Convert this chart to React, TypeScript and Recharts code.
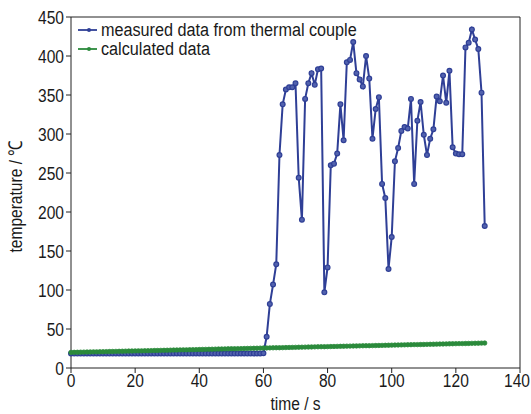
import { Line, LineChart, ReferenceLine, XAxis, YAxis } from 'recharts'

// Thermocouple reading vs. calculated temperature over the first ~130 s.

const TIME = [
  0, 1, 2, 3, 4, 5, 6, 7, 8, 9, 10, 11, 12, 13, 14, 15, 16, 17, 18, 19,
  20, 21, 22, 23, 24, 25, 26, 27, 28, 29, 30, 31, 32, 33, 34, 35, 36, 37, 38, 39,
  40, 41, 42, 43, 44, 45, 46, 47, 48, 49, 50, 51, 52, 53, 54, 55, 56, 57, 58, 59,
  60, 61, 62, 63, 64, 65, 66, 67, 68, 69, 70, 71, 72, 73, 74, 75, 76, 77, 78, 79,
  80, 81, 82, 83, 84, 85, 86, 87, 88, 89, 90, 91, 92, 93, 94, 95, 96, 97, 98, 99,
  100, 101, 102, 103, 104, 105, 106, 107, 108, 109, 110, 111, 112, 113, 114, 115, 116, 117, 118, 119,
  120, 121, 122, 123, 124, 125, 126, 127, 128, 129,
]

const MEASURED = [
  18.5, 18.5, 18.5, 18.5, 18.5, 18.5, 18.5, 18.5, 18.5, 18.5, 18.5, 18.5, 18.5, 18.5, 18.5, 18.5, 18.5, 18.5, 18.5, 18.5,
  18.5, 18.5, 18.5, 18.5, 18.5, 18.5, 18.5, 18.5, 18.5, 18.5, 18.5, 18.5, 18.5, 18.5, 18.5, 18.5, 18.5, 18.5, 18.5, 18.5,
  18.5, 18.5, 18.5, 18.5, 18.5, 18.5, 18.5, 18.5, 18.5, 18.5, 18.5, 18.5, 18.5, 18.5, 18.5, 18.5, 18.5, 18.5, 18.5, 18.5,
  19, 40, 82, 107, 133, 273, 338, 357, 360, 360, 365, 244, 190, 345, 365, 378, 363, 383, 384, 97,
  129, 260, 262, 275, 338, 292, 392, 395, 418, 378, 370, 361, 400, 371, 294, 332, 347, 236, 218, 127,
  168, 265, 282, 304, 309, 307, 345, 236, 317, 341, 299, 273, 294, 306, 348, 342, 375, 340, 381, 283,
  275, 274, 274, 411, 417, 434, 421, 409, 353, 182,
]

const CALCULATED = [
  20.0, 20.1, 20.2, 20.3, 20.4, 20.5, 20.6, 20.7, 20.7, 20.8, 20.9, 21.0, 21.1, 21.2, 21.3, 21.4, 21.5, 21.6, 21.7, 21.8,
  21.9, 22.0, 22.0, 22.1, 22.2, 22.3, 22.4, 22.5, 22.6, 22.7, 22.8, 22.9, 23.0, 23.1, 23.2, 23.3, 23.3, 23.4, 23.5, 23.6,
  23.7, 23.8, 23.9, 24.0, 24.1, 24.2, 24.3, 24.4, 24.5, 24.6, 24.7, 24.7, 24.8, 24.9, 25.0, 25.1, 25.2, 25.3, 25.4, 25.5,
  25.6, 25.7, 25.8, 25.9, 26.0, 26.0, 26.1, 26.2, 26.3, 26.4, 26.5, 26.6, 26.7, 26.8, 26.9, 27.0, 27.1, 27.2, 27.3, 27.3,
  27.4, 27.5, 27.6, 27.7, 27.8, 27.9, 28.0, 28.1, 28.2, 28.3, 28.4, 28.5, 28.6, 28.6, 28.7, 28.8, 28.9, 29.0, 29.1, 29.2,
  29.3, 29.4, 29.5, 29.6, 29.7, 29.8, 29.9, 30.0, 30.0, 30.1, 30.2, 30.3, 30.4, 30.5, 30.6, 30.7, 30.8, 30.9, 31.0, 31.1,
  31.2, 31.3, 31.3, 31.4, 31.5, 31.6, 31.7, 31.8, 31.9, 32.0,
]

const X_TICKS = [0, 20, 40, 60, 80, 100, 120, 140]
const Y_TICKS = [0, 50, 100, 150, 200, 250, 300, 350, 400, 450]

const SERIES_NAMES = ['measured data from thermal couple', 'calculated data']

const BLUE = '#2f3f96'
const GREEN = '#2b8a3b'
const AXIS = '#222222'
const TEXT = '#1a1a1a'
const FONT = '"Liberation Sans", Arial, sans-serif'
// the figure uses a condensed sans; squeeze Liberation Sans to match
const SQUEEZE = 0.82

const data = TIME.map((t, i) => ({
  t,
  measured: MEASURED[i],
  calculated: CALCULATED[i],
}))

function XTick({ x, y, payload, index }: any) {
  // last label sits against the right edge in the original, nudge it in
  const nudge = index === X_TICKS.length - 1 ? -3 : 0
  return (
    <g transform={`translate(${x + nudge},${y})`}>
      <text
        transform={`scale(${SQUEEZE},1)`}
        textAnchor="middle"
        dy="0.71em"
        fill={TEXT}
        fontSize={19}
        fontFamily={FONT}
      >
        {payload.value}
      </text>
    </g>
  )
}

function YTick({ x, y, payload }: any) {
  return (
    <g transform={`translate(${x},${y})`}>
      <text
        transform={`scale(${SQUEEZE},1)`}
        textAnchor="end"
        dy="0.355em"
        fill={TEXT}
        fontSize={19}
        fontFamily={FONT}
      >
        {payload.value}
      </text>
    </g>
  )
}

function XTitle({ viewBox }: any) {
  const cx = viewBox.x + viewBox.width / 2
  return (
    <g transform={`translate(${cx},${viewBox.y + 42})`}>
      <text transform={`scale(${SQUEEZE},1)`} textAnchor="middle" fill={TEXT} fontSize={19} fontFamily={FONT}>
        time / s
      </text>
    </g>
  )
}

function YTitle({ viewBox }: any) {
  const cy = viewBox.y + viewBox.height / 2 + 4
  return (
    <g transform={`translate(${viewBox.x + 15},${cy}) rotate(-90)`}>
      <text
        transform={`scale(${SQUEEZE},1)`}
        textAnchor="middle"
        dy="0.355em"
        fill={TEXT}
        fontSize={19}
        fontFamily={FONT}
      >
        temperature / ℃
      </text>
    </g>
  )
}

function LegendBox() {
  const rows = [
    { name: SERIES_NAMES[0], color: BLUE },
    { name: SERIES_NAMES[1], color: GREEN },
  ]
  return (
    <div
      style={{
        position: 'absolute',
        left: 77,
        top: 21,
        fontFamily: FONT,
        fontSize: 18,
        lineHeight: '18px',
        color: TEXT,
        pointerEvents: 'none',
      }}
    >
      {rows.map((row) => (
        <div key={row.name} style={{ display: 'flex', alignItems: 'center', height: 18.5, whiteSpace: 'nowrap' }}>
          <svg width={24} height={10} style={{ flex: 'none' }}>
            <line x1={1} y1={5} x2={20} y2={5} stroke={row.color} strokeWidth={1.8} />
            <circle cx={12} cy={5} r={2} fill={row.color} />
          </svg>
          <span
            style={{
              display: 'inline-block',
              lineHeight: '18px',
              transform: 'scaleX(0.9)',
              transformOrigin: 'left center',
            }}
          >
            {row.name}
          </span>
        </div>
      ))}
    </div>
  )
}

export default function App() {
  return (
    <div style={{ position: 'absolute', left: 0, top: 0, width: 531, height: 414, background: '#ffffff' }}>
      <LineChart
        width={531}
        height={414}
        data={data}
        margin={{ top: 17, right: 11, bottom: 0, left: 0 }}
      >
        <XAxis
          dataKey="t"
          type="number"
          domain={[0, 140]}
          ticks={X_TICKS}
          interval={0}
          height={46}
          tick={<XTick />}
          tickSize={5}
          tickMargin={1}
          stroke={AXIS}
          label={<XTitle />}
        />
        <YAxis
          type="number"
          domain={[0, 450]}
          ticks={Y_TICKS}
          interval={0}
          width={71}
          tick={<YTick />}
          tickSize={5}
          tickMargin={2}
          stroke={AXIS}
          label={<YTitle />}
        />
        <ReferenceLine y={450} stroke={AXIS} />
        <ReferenceLine x={140} stroke={AXIS} />
        <Line
          dataKey="measured"
          name={SERIES_NAMES[0]}
          stroke={BLUE}
          strokeWidth={2}
          dot={{ r: 2.4, fill: '#5262ae', stroke: BLUE, strokeWidth: 1.2 }}
          isAnimationActive={false}
        />
        <Line
          dataKey="calculated"
          name={SERIES_NAMES[1]}
          stroke={GREEN}
          strokeWidth={2}
          dot={{ r: 2.2, fill: GREEN, stroke: GREEN, strokeWidth: 0.8 }}
          isAnimationActive={false}
        />
      </LineChart>
      <LegendBox />
    </div>
  )
}
